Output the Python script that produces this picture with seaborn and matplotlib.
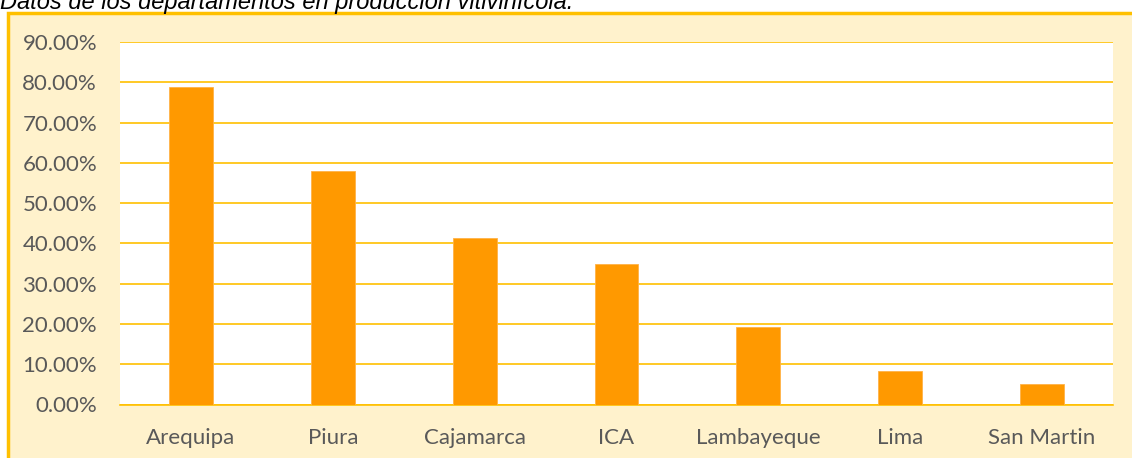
import matplotlib
matplotlib.use("Agg")
import matplotlib.pyplot as plt
import matplotlib.patches as mpatches
from matplotlib.ticker import PercentFormatter, MultipleLocator
import seaborn as sns
import pandas as pd

# datos
departamentos = ['Arequipa', 'Piura', 'Cajamarca', 'ICA', 'Lambayeque', 'Lima', 'San Martin']
produccion = [78.8, 58.0, 41.3, 35.0, 19.2, 8.4, 5.2]
titulo = 'Datos de los departamentos en producción vitivinícola.'

df = pd.DataFrame({'dep': departamentos, 'val': produccion})

sns.set_theme(style='white')
plt.rcParams['font.family'] = ['Lato', 'DejaVu Sans']

fig = plt.figure(figsize=(11.32, 4.58), dpi=100)
fig.patch.set_facecolor('white')

# fondo amarillo con borde arriba e izquierda
bg = mpatches.Rectangle((8 / 1132, -0.1), 1.2, 1 - 13 / 458 + 0.1, transform=fig.transFigure,
                        facecolor='#FFF2CC', edgecolor='#FFC000', linewidth=2.5, zorder=-10)
fig.patches.append(bg)

ax = fig.add_axes([120 / 1132, 1 - 404.5 / 458, 993 / 1132, 362.5 / 458])
ax.set_facecolor('white')

sns.barplot(data=df, x='dep', y='val', color='#FF9900', saturation=1, width=0.31,
            edgecolor='#FFB347', linewidth=0.6, ax=ax, zorder=3)

ax.set_ylim(0, 90)
ax.yaxis.set_major_locator(MultipleLocator(10))
ax.yaxis.set_major_formatter(PercentFormatter(decimals=2))
ax.grid(axis='y', color='#FFC000', linewidth=1.2, zorder=0)
ax.set_axisbelow(True)
for s in ['top', 'right', 'left']:
    ax.spines[s].set_visible(False)
ax.spines['bottom'].set_color('#FFC000')
ax.spines['bottom'].set_linewidth(1.2)
ax.tick_params(axis='both', length=0, labelsize=16, labelcolor='#595959')
ax.tick_params(axis='y', pad=16.5)
ax.tick_params(axis='x', pad=17)
ax.set_xlabel('')
ax.set_ylabel('')

fig.text(0.0, 1 - 9 / 458, titulo, fontsize=17, style='italic', color='black',
         family=['Liberation Sans', 'DejaVu Sans'], ha='left', va='baseline')

fig.savefig('out.png', dpi=100, facecolor=fig.get_facecolor())
